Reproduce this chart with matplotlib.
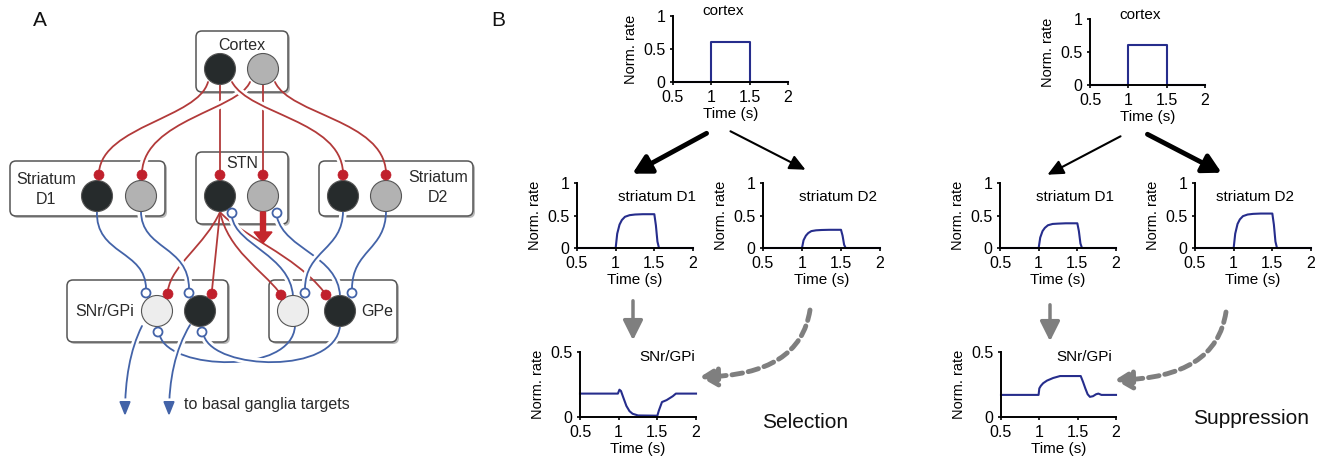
import matplotlib
matplotlib.use('Agg')
import matplotlib.pyplot as plt
from matplotlib.patches import FancyBboxPatch, Circle, PathPatch, FancyArrowPatch, FancyArrow
from matplotlib.path import Path
from matplotlib import patheffects

plt.rcParams['font.family'] = ['Liberation Sans', 'DejaVu Sans']

# ---- panel B traces ----
t_cortex = [0.5, 1.0, 1.0, 1.5, 1.5, 2.0]
r_cortex = [0, 0, 0.6, 0.6, 0, 0]

t_str = [0.5, 0.99, 1.0, 1.02, 1.05, 1.08, 1.12, 1.18, 1.25, 1.35, 1.5, 1.52, 1.54, 1.56, 2.0]
r_sel_d1 = [0, 0, 0, 0.22, 0.36, 0.43, 0.48, 0.505, 0.515, 0.52, 0.52, 0.35, 0.1, 0, 0]
r_sel_d2 = [0, 0, 0, 0.12, 0.19, 0.23, 0.26, 0.272, 0.277, 0.28, 0.28, 0.19, 0.05, 0, 0]
r_sup_d1 = [0, 0, 0, 0.16, 0.26, 0.31, 0.35, 0.37, 0.375, 0.38, 0.38, 0.26, 0.07, 0, 0]
r_sup_d2 = [0, 0, 0, 0.22, 0.37, 0.44, 0.49, 0.515, 0.525, 0.53, 0.53, 0.36, 0.1, 0, 0]

t_snr_sel = [0.5, 0.99, 1.01, 1.03, 1.06, 1.1, 1.14, 1.18, 1.25, 1.5, 1.52, 1.56, 1.62, 1.7, 1.74, 2.0]
r_snr_sel = [0.18, 0.18, 0.21, 0.20, 0.15, 0.085, 0.045, 0.025, 0.012, 0.01, 0.05, 0.115, 0.13, 0.16, 0.18, 0.18]
t_snr_sup = [0.5, 0.99, 1.0, 1.02, 1.05, 1.1, 1.18, 1.27, 1.54, 1.57, 1.6, 1.63, 1.66, 1.7, 1.74, 1.77, 1.81, 2.0]
r_snr_sup = [0.17, 0.17, 0.22, 0.24, 0.26, 0.28, 0.30, 0.315, 0.315, 0.27, 0.22, 0.175, 0.155, 0.16, 0.175, 0.18, 0.17, 0.17]

time_ticks = [0.5, 1, 1.5, 2]
time_labels = ['0.5', '1', '1.5', '2']

# ---- panel A nodes (pixel positions) ----
boxes = {'Cortex': (196, 31, 288, 92), 'D1': (10, 161, 165, 216),
         'STN': (196, 152, 288, 224), 'D2': (319, 161, 473, 216),
         'SNr': (67, 280, 228, 342), 'GPe': (269, 280, 397, 342)}
BLACK, GRAY, LIGHT = '#262b2c', '#b2b2b2', '#ededed'
nodes = [(220, 69, BLACK), (263, 69, GRAY), (97, 196, BLACK), (141, 196, GRAY),
         (220, 196, BLACK), (263, 196, GRAY), (343, 196, BLACK), (386, 196, GRAY),
         (157, 311, LIGHT), (200, 311, BLACK), (293, 311, LIGHT), (340, 311, BLACK)]
RED, BLUE = '#b23a3a', '#4363a8'

fig = plt.figure(figsize=(13.24, 4.67), dpi=100)
ov = fig.add_axes([0, 0, 1, 1])
ov.set_xlim(0, 1324)
ov.set_ylim(467, 0)
ov.axis('off')


def curve(pts, color, lw=1.3, gap=False, z=3):
    codes = [Path.MOVETO] + [Path.CURVE4] * 3 if len(pts) == 4 else [Path.MOVETO, Path.LINETO]
    pe = [patheffects.withStroke(linewidth=lw + 4, foreground='white')] if gap else None
    ov.add_patch(PathPatch(Path(pts, codes), fill=False, edgecolor=color, lw=lw,
                           zorder=z, path_effects=pe, capstyle='round'))


for x0, y0, x1, y1 in boxes.values():
    ov.add_patch(FancyBboxPatch((x0 + 2, y0 + 2), x1 - x0, y1 - y0,
                                boxstyle='round,pad=0,rounding_size=6',
                                fc='#9a9a9a', ec='none', alpha=0.7, zorder=1))
    ov.add_patch(FancyBboxPatch((x0, y0), x1 - x0, y1 - y0,
                                boxstyle='round,pad=0,rounding_size=6',
                                fc='white', ec='#555555', lw=1.1, zorder=1.5))

# cortex projections
curve([(208, 82), (198, 118), (103, 126), (99, 172)], RED)
curve([(220, 84), (220, 172)], RED)
curve([(263, 84), (263, 172)], RED)
curve([(250, 82), (238, 110), (145, 120), (142, 172)], RED, gap=True)
curve([(232, 82), (250, 115), (340, 120), (343, 172)], RED, gap=True)
curve([(275, 82), (290, 115), (383, 120), (386, 172)], RED)

# STN projections
curve([(220, 212), (205, 245), (172, 265), (168, 290)], RED)
curve([(220, 212), (212, 290)], RED)
curve([(220, 212), (228, 250), (262, 270), (279, 292)], RED)
curve([(220, 212), (240, 235), (295, 255), (324, 292)], RED)

# striatum / GPe inhibitory
curve([(97, 211), (95, 255), (146, 250), (146, 289)], BLUE)
curve([(141, 211), (141, 250), (189, 245), (189, 289)], BLUE, gap=True)
curve([(232, 217), (236, 245), (290, 255), (293, 296)], BLUE, gap=True)
curve([(277, 217), (285, 250), (338, 255), (340, 296)], BLUE, gap=True)
curve([(343, 211), (343, 250), (305, 250), (305, 289)], BLUE, gap=True)
curve([(386, 211), (386, 250), (352, 250), (352, 289)], BLUE)
curve([(295, 326), (292, 375), (170, 370), (160, 336)], BLUE)
curve([(340, 326), (335, 375), (215, 370), (204, 336)], BLUE, gap=True)

# outputs
for pts in ([(142, 326), (130, 350), (125, 380), (125, 416)],
            [(190, 325), (175, 350), (169, 380), (169, 416)]):
    ov.add_patch(FancyArrowPatch(path=Path(pts, [Path.MOVETO] + [Path.CURVE4] * 3),
                                 arrowstyle='-|>,head_length=0.7,head_width=0.28',
                                 mutation_scale=12, color=BLUE, lw=1.3, zorder=4,
                                 path_effects=[patheffects.withStroke(linewidth=5, foreground='white')]))

for x, y, c in nodes:
    ov.add_patch(Circle((x, y), 15.5, fc=c, ec='#555555', lw=0.8, zorder=5))

for x, y in [(99, 175), (142, 175), (220, 175), (263, 175), (343, 175), (386, 175),
             (168, 294), (212, 294), (281, 295), (326, 295)]:
    ov.add_patch(Circle((x, y), 5, fc='#c0202c', ec='#c0202c', lw=0.5, zorder=6))
for x, y in [(146, 293), (189, 293), (232, 213), (277, 213), (305, 293), (352, 293),
             (158, 332), (202, 332)]:
    ov.add_patch(Circle((x, y), 4.5, fc='white', ec=BLUE, lw=1.3, zorder=6))

ov.add_patch(FancyArrow(263, 212, 0, 31, width=5, head_width=18, head_length=11,
                        length_includes_head=True, color='#c4262c', zorder=7))

tc = '#2a2a2a'
ov.text(242, 45, 'Cortex', ha='center', va='center', fontsize=11.5, color=tc)
ov.text(242, 164, 'STN', ha='center', va='center', fontsize=11.5, color=tc)
ov.text(46, 179, 'Striatum', ha='center', va='center', fontsize=11.5, color=tc)
ov.text(46, 199, 'D1', ha='center', va='center', fontsize=11.5, color=tc)
ov.text(438, 178, 'Striatum', ha='center', va='center', fontsize=11.5, color=tc)
ov.text(438, 198, 'D2', ha='center', va='center', fontsize=11.5, color=tc)
ov.text(105, 311, 'SNr/GPi', ha='center', va='center', fontsize=11.5, color=tc)
ov.text(377, 311, 'GPe', ha='center', va='center', fontsize=11.5, color=tc)
ov.text(184, 405, 'to basal ganglia targets', ha='left', va='center', fontsize=11.5, color=tc)
ov.text(40, 20, 'A', ha='center', va='center', fontsize=15, color='#111111')
ov.text(498, 20, 'B', ha='center', va='center', fontsize=15, color='#111111')
ov.text(805, 422, 'Selection', ha='center', va='center', fontsize=15, color='#111111')
ov.text(1251, 418, 'Suppression', ha='center', va='center', fontsize=15, color='#111111')

# ---- panel B arrows ----
def arrow(p0, p1, color, lw, hw=0.35, hl=0.6, ms=20):
    ov.add_patch(FancyArrowPatch(p0, p1, arrowstyle='-|>,head_length=%g,head_width=%g' % (hl, hw),
                                 mutation_scale=ms, color=color, lw=lw, zorder=3))


def dashed(p0, pc, p1):
    ov.add_patch(FancyArrowPatch(path=Path([p0, pc, p1], [Path.MOVETO, Path.CURVE3, Path.CURVE3]),
                                 arrowstyle='-|>,head_length=0.5,head_width=0.3',
                                 mutation_scale=20, color='#7f7f7f', lw=3.5,
                                 linestyle=(0, (2.2, 1.2)), zorder=3))


arrow((709, 132), (630, 175), 'black', 3.5, hw=0.3, hl=0.55)
arrow((728, 130), (808, 171), 'black', 1.5, hw=0.28, hl=0.6, ms=16)
arrow((633, 298), (633, 343), '#7f7f7f', 2.5, hw=0.3, hl=0.6)
dashed((810, 310), (800, 375), (700, 377))
arrow((1123, 135), (1045, 176), 'black', 1.5, hw=0.28, hl=0.6, ms=16)
arrow((1145, 133), (1224, 174), 'black', 3.5, hw=0.3, hl=0.55)
arrow((1050, 302), (1050, 344), '#7f7f7f', 2.5, hw=0.3, hl=0.6)
dashed((1226, 312), (1216, 378), (1115, 380))

# ---- panel B plots ----
LINE = '#262d8c'


def trace(x0, x1, ytop, ybot, t, r, title, tpos, ymax=1.0):
    ax = fig.add_axes([x0 / 1324, 1 - ybot / 467, (x1 - x0) / 1324, (ybot - ytop) / 467])
    ax.patch.set_alpha(0)
    ax.plot(t, r, color=LINE, lw=1.5, clip_on=False)
    ax.set_xlim(0.5, 2)
    ax.set_ylim(0, ymax)
    ax.set_xticks(time_ticks)
    ax.set_xticklabels(time_labels)
    if ymax == 1.0:
        ax.set_yticks([0, 0.5, 1])
        ax.set_yticklabels(['0', '0.5', '1'])
    else:
        ax.set_yticks([0, 0.5])
        ax.set_yticklabels(['0', '0.5'])
    for s in ['top', 'right']:
        ax.spines[s].set_visible(False)
    for s in ['left', 'bottom']:
        ax.spines[s].set_linewidth(1.4)
    ax.tick_params(labelsize=11.5, length=2.5, width=1.2, pad=3)
    ax.set_xlabel('Time (s)', fontsize=11, labelpad=2)
    ax.set_ylabel('Norm. rate', fontsize=10.5, labelpad=4)
    ax.text(tpos[0], tpos[1], title, transform=ax.transAxes, ha='center', va='center', fontsize=11)
    return ax


trace(673, 788, 16, 82, t_cortex, r_cortex, 'cortex', (0.44, 1.08))
trace(577, 693, 183, 248, t_str, r_sel_d1, 'striatum D1', (0.69, 0.78))
trace(763, 880, 183, 248, t_str, r_sel_d2, 'striatum D2', (0.64, 0.78))
trace(580, 696, 352, 417, t_snr_sel, r_snr_sel, 'SNr/GPi', (0.75, 0.92), ymax=0.5)

trace(1090, 1205, 19, 85, t_cortex, r_cortex, 'cortex', (0.435, 1.06))
trace(1000, 1116, 183, 248, t_str, r_sup_d1, 'striatum D1', (0.65, 0.78))
trace(1195, 1311, 183, 248, t_str, r_sup_d2, 'striatum D2', (0.52, 0.78))
trace(1001, 1116, 352, 417, t_snr_sup, r_snr_sup, 'SNr/GPi', (0.72, 0.92), ymax=0.5)

fig.savefig('out.png', dpi=100, facecolor='white')
